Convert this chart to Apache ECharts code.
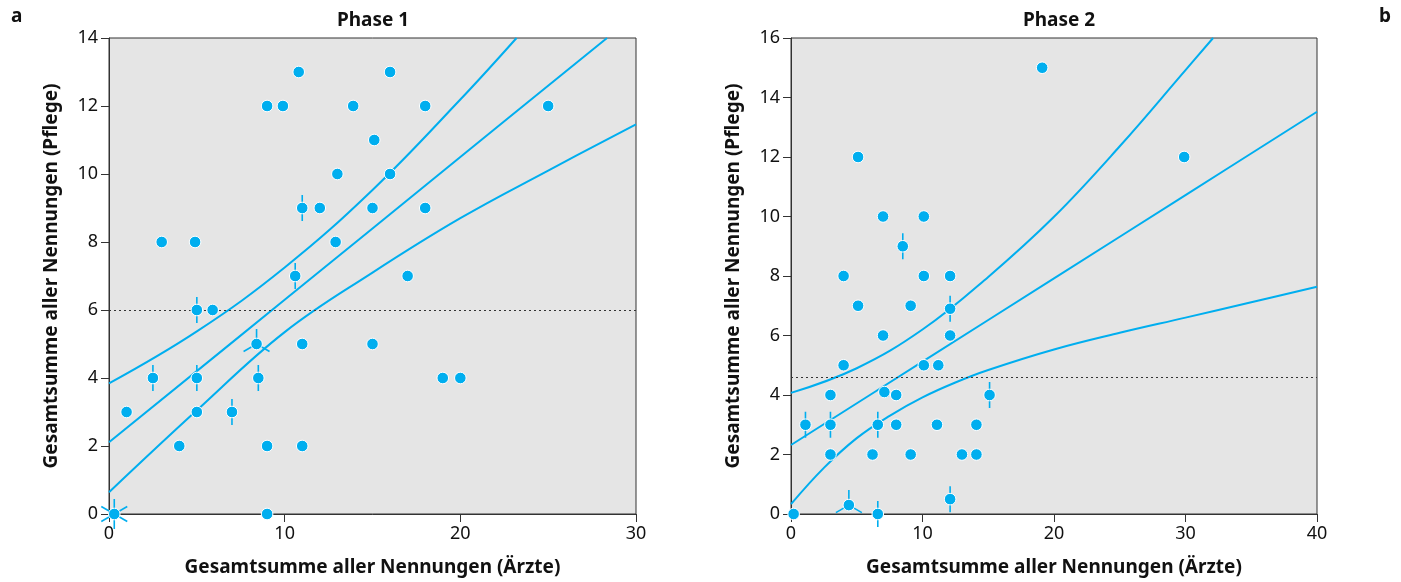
<!DOCTYPE html>
<html>
<head>
<meta charset="utf-8">
<script src="https://cdn.jsdelivr.net/npm/echarts/dist/echarts.min.js"></script>
<style>
    html, body { margin: 0; padding: 0; background: #fff; }
    #chart { width: 1401px; height: 582px; }
</style>
</head>
<body>
<div id="chart"></div>
<script>
// [x, y, Anzahl] – Anzahl > 1 wird als "Sonnenblume" gezeichnet
let phase1Points = [
    [0.3, 0, 6], [1, 3, 1], [2.5, 4, 2], [3, 8, 1], [4, 2, 1], [4.9, 8, 1],
    [5, 6, 2], [5, 4, 2], [5, 3, 1], [5.9, 6, 1], [7, 3, 2], [8.4, 5, 3],
    [8.5, 4, 2], [9, 12, 1], [9, 2, 1], [9, 0, 1], [9.9, 12, 1], [10.8, 13, 1],
    [10.6, 7, 2], [11, 9, 2], [11, 5, 1], [11, 2, 1], [12, 9, 1], [12.9, 8, 1],
    [13, 10, 1], [13.9, 12, 1], [15.1, 11, 1], [15, 9, 1], [15, 5, 1], [16, 13, 1],
    [16, 10, 1], [17, 7, 1], [18, 12, 1], [18, 9, 1], [19, 4, 1], [20, 4, 1],
    [25, 12, 1]
];
let phase1Upper = [[0, 3.84], [5, 5.37], [10, 7.25], [15, 9.53], [20, 12.19], [23.2, 14]];
let phase1Fit = [[0, 2.11], [10, 6.3], [20, 10.5], [28.35, 14]];
let phase1Lower = [[0, 0.64], [5, 3.05], [10, 5.35], [15, 7.1], [20, 8.7], [25, 10.1], [30, 11.46]];
let phase1Ref = 6;

let phase2Points = [
    [0.2, 0, 1], [1.1, 3, 2], [3, 4, 1], [3, 3, 2], [3, 2, 1], [4, 8, 1],
    [4, 5, 1], [4.4, 0.3, 3], [5.1, 12, 1], [5.1, 7, 1], [6.2, 2, 1], [6.6, 3, 2],
    [6.6, 0, 2], [7, 10, 1], [7, 6, 1], [7.1, 4.1, 1], [8, 4, 1], [8, 3, 1],
    [8.5, 9, 2], [9.1, 7, 1], [9.1, 2, 1], [10.1, 10, 1], [10.1, 8, 1], [10.1, 5, 1],
    [11.2, 5, 1], [11.1, 3, 1], [12.1, 8, 1], [12.1, 6.9, 2], [12.1, 6, 1], [12.1, 0.5, 2],
    [13, 2, 1], [14.1, 3, 1], [14.1, 2, 1], [15.1, 4, 2], [19.1, 15, 1], [29.9, 12, 1]
];
let phase2Upper = [[0, 4.07], [5, 4.9], [10, 6.2], [15, 7.97], [20, 9.99], [25, 12.36], [30, 14.92], [32.1, 16]];
let phase2Fit = [[0, 2.32], [10, 5.12], [20, 7.92], [30, 10.72], [40, 13.52]];
let phase2Lower = [[0, 0.33], [2.5, 1.55], [5, 2.55], [7.5, 3.3], [10, 3.92], [12.5, 4.42], [15, 4.84],
    [20, 5.53], [25, 6.09], [30, 6.6], [35, 7.12], [40, 7.64]];
let phase2Ref = 4.6;

let titles = ['Phase 1', 'Phase 2'];
let xName = 'Gesamtsumme aller Nennungen (Ärzte)';
let yName = 'Gesamtsumme aller Nennungen (Pflege)';

const BLUE = '#00aeef';
const FONT = 'Noto Sans';

function renderPoint(params, api) {
    let c = api.coord([api.value(0), api.value(1)]);
    let n = api.value(2);
    let children = [];
    let petal = n > 2 ? 15 : 13;
    if (n > 1) {
        for (let k = 0; k < n; k++) {
            let a = Math.PI / 2 + k * 2 * Math.PI / n;
            children.push({
                type: 'line',
                shape: { x1: c[0], y1: c[1], x2: c[0] + Math.cos(a) * petal, y2: c[1] - Math.sin(a) * petal },
                style: { stroke: BLUE, lineWidth: 1.6 }
            });
        }
    }
    children.push({
        type: 'circle',
        shape: { cx: c[0], cy: c[1], r: 5.8 },
        style: { fill: BLUE, stroke: '#fff', lineWidth: 1 }
    });
    return { type: 'group', children: children };
}

function curve(data, idx) {
    return {
        type: 'line',
        data: data,
        xAxisIndex: idx,
        yAxisIndex: idx,
        smooth: 0.4,
        symbol: 'none',
        lineStyle: { color: BLUE, width: 2 },
        silent: true,
        z: 3
    };
}

function refLine(value, idx) {
    return {
        type: 'line',
        data: [],
        xAxisIndex: idx,
        yAxisIndex: idx,
        markLine: {
            silent: true,
            symbol: 'none',
            label: { show: false },
            lineStyle: { color: '#333', type: [2, 3], width: 1 },
            data: [{ yAxis: value }]
        },
        z: 2
    };
}

function xAxis(idx, max) {
    return {
        type: 'value',
        gridIndex: idx,
        min: 0, max: max, interval: 10,
        name: xName,
        nameLocation: 'middle',
        nameGap: 44,
        nameTextStyle: { fontFamily: FONT, fontWeight: 'bold', fontSize: 19, color: '#111' },
        axisLine: { lineStyle: { color: '#333', width: 1 } },
        axisTick: { length: 8, lineStyle: { color: '#333' } },
        axisLabel: { fontFamily: FONT, fontSize: 18, color: '#111', margin: 11 },
        splitLine: { show: false }
    };
}

function yAxis(idx, max) {
    return {
        type: 'value',
        gridIndex: idx,
        min: 0, max: max, interval: 2,
        name: yName,
        nameLocation: 'middle',
        nameGap: 48,
        nameTextStyle: { fontFamily: FONT, fontWeight: 'bold', fontSize: 19, color: '#111' },
        axisLine: { lineStyle: { color: '#333', width: 1 } },
        axisTick: { length: 8, lineStyle: { color: '#333' } },
        axisLabel: { fontFamily: FONT, fontSize: 18, color: '#111', margin: 11 },
        splitLine: { show: false }
    };
}

let titleStyle = { fontFamily: FONT, fontSize: 19, fontWeight: 'bold', color: '#111' };

let option = {
    animation: false,
    title: [
        { text: titles[0], left: 368, top: 6, textAlign: 'center', textStyle: titleStyle },
        { text: titles[1], left: 1054, top: 6, textAlign: 'center', textStyle: titleStyle },
        { text: 'a', left: 6, top: 2, textStyle: titleStyle },
        { text: 'b', left: 1374, top: 2, textStyle: titleStyle }
    ],
    grid: [
        { left: 109, right: 765, top: 38, bottom: 68, show: true, backgroundColor: '#e5e5e5', borderColor: '#333', borderWidth: 1 },
        { left: 791, right: 84, top: 38, bottom: 68, show: true, backgroundColor: '#e5e5e5', borderColor: '#333', borderWidth: 1 }
    ],
    xAxis: [xAxis(0, 30), xAxis(1, 40)],
    yAxis: [yAxis(0, 14), yAxis(1, 16)],
    series: [
        refLine(phase1Ref, 0),
        curve(phase1Upper, 0),
        curve(phase1Fit, 0),
        curve(phase1Lower, 0),
        {
            type: 'custom',
            xAxisIndex: 0, yAxisIndex: 0,
            data: phase1Points,
            encode: { x: 0, y: 1 },
            renderItem: renderPoint,
            z: 5
        },
        refLine(phase2Ref, 1),
        curve(phase2Upper, 1),
        curve(phase2Fit, 1),
        curve(phase2Lower, 1),
        {
            type: 'custom',
            xAxisIndex: 1, yAxisIndex: 1,
            data: phase2Points,
            encode: { x: 0, y: 1 },
            renderItem: renderPoint,
            z: 5
        }
    ]
};

let chart = echarts.init(document.getElementById('chart'));
chart.setOption(option);
</script>
</body>
</html>
